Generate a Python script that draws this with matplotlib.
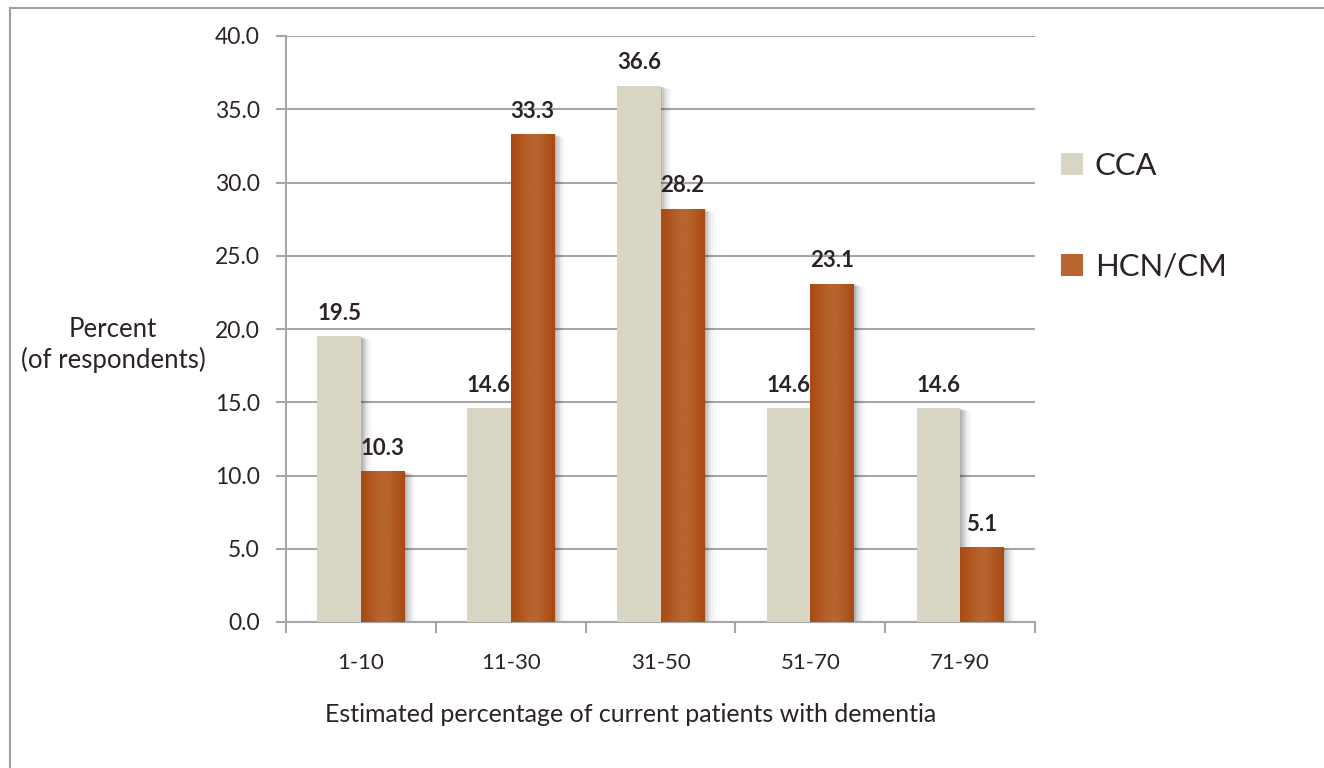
import numpy as np
import matplotlib
matplotlib.use("Agg")
import matplotlib.pyplot as plt
from matplotlib.colors import LinearSegmentedColormap
from matplotlib.lines import Line2D
from matplotlib.patches import Rectangle
import matplotlib.transforms as mtransforms

categories = ["1-10", "11-30", "31-50", "51-70", "71-90"]
series_names = ["CCA", "HCN/CM"]
cca_values = [19.5, 14.6, 36.6, 14.6, 14.6]
hcn_values = [10.3, 33.3, 28.2, 23.1, 5.1]
y_ticks = [0, 5, 10, 15, 20, 25, 30, 35, 40]

text_color = "#2d2327"
grid_color = "#a6a6a6"
cca_color = "#d9d6c6"
hcn_dark = "#a84a12"
hcn_light = "#b8642f"

plt.rcParams["font.family"] = ["Lato", "DejaVu Sans"]

fig = plt.figure(figsize=(13.24, 7.68), dpi=100)
W, H = 1324, 768
ax = fig.add_axes([286 / W, 1 - 622 / H, (1035 - 286) / W, (622 - 36) / H])

x = np.arange(len(categories))
width = 0.29

# horizontal gridlines
ax.set_yticks(y_ticks)
ax.set_yticklabels([f"{v:.1f}" for v in y_ticks], fontsize=16.5, color=text_color)
ax.yaxis.grid(True, color=grid_color, linewidth=1.5)
ax.set_axisbelow(True)
ax.tick_params(axis="y", length=7, width=1.5, color=grid_color, pad=12)

# category labels centered, tick marks at group boundaries
ax.set_xticks(x)
ax.set_xticklabels(categories, fontsize=16, color=text_color)
ax.tick_params(axis="x", length=0, pad=22)
ax.set_xticks(np.arange(-0.5, len(categories), 1.0), minor=True)
ax.tick_params(axis="x", which="minor", length=8, width=1.5, color=grid_color)

for side in ["top", "right"]:
    ax.spines[side].set_visible(False)
for side in ["left", "bottom"]:
    ax.spines[side].set_color(grid_color)
    ax.spines[side].set_linewidth(1.5)


def draw_shadow(x0, h):
    # soft drop shadow to the right of each bar
    for i, a in enumerate([0.10, 0.08, 0.06, 0.045, 0.03, 0.02]):
        off = mtransforms.offset_copy(ax.transData, fig=fig, x=(i + 1) * 1.3, y=-(i + 1) * 0.4, units="points")
        ax.add_patch(Rectangle((x0, 0), width, h, facecolor="black", alpha=a,
                               edgecolor="none", transform=off, zorder=2))


grad_cmap = LinearSegmentedColormap.from_list(
    "hcn", [(0.0, hcn_dark), (0.45, hcn_light), (0.6, hcn_light), (1.0, hcn_dark)])
gradient = np.linspace(0, 1, 256).reshape(1, -1)

for i in range(len(categories)):
    draw_shadow(x[i] - width, cca_values[i])
    draw_shadow(x[i], hcn_values[i])

for i in range(len(categories)):
    ax.bar(x[i] - width / 2, cca_values[i], width, color=cca_color, zorder=3)
    b2 = ax.bar(x[i] + width / 2, hcn_values[i], width, color=hcn_dark, zorder=3)
    im = ax.imshow(gradient, cmap=grad_cmap, aspect="auto",
                   extent=(x[i], x[i] + width, 0, hcn_values[i]), zorder=3.5)
    im.set_clip_path(b2[0])

ax.set_xlim(-0.5, len(categories) - 0.5)
ax.set_ylim(0, 40)

# value labels
for i in range(len(categories)):
    ax.annotate(f"{cca_values[i]:.1f}", (x[i] - width / 2, cca_values[i]),
                xytext=(0, 9), textcoords="offset points", ha="center", va="bottom",
                fontsize=16, fontweight="bold", color=text_color, zorder=5)
    ax.annotate(f"{hcn_values[i]:.1f}", (x[i] + width / 2, hcn_values[i]),
                xytext=(0, 9), textcoords="offset points", ha="center", va="bottom",
                fontsize=16, fontweight="bold", color=text_color, zorder=5)

# axis titles
fig.text(631 / W, 1 - 715 / H, "Estimated percentage of current patients with dementia",
         ha="center", va="center", fontsize=18, color=text_color)
fig.text(113 / W, 1 - 345 / H, "Percent\n(of respondents)", ha="center", va="center",
         fontsize=18.5, color=text_color, linespacing=1.2)

# legend
handles = [Rectangle((0, 0), 1, 1, facecolor=cca_color),
           Rectangle((0, 0), 1, 1, facecolor=hcn_light)]
leg = fig.legend(handles, series_names, loc="upper left",
                 bbox_to_anchor=(1033 / W, 1 - 124 / H), frameon=False,
                 fontsize=22.3, handlelength=0.7, handleheight=0.7,
                 handletextpad=0.4, labelspacing=2.35, labelcolor=text_color)

# outer frame
fig.add_artist(Line2D([10 / W, 1], [1 - 8 / H, 1 - 8 / H], color="#a0a0a0", linewidth=1.5,
                      transform=fig.transFigure))
fig.add_artist(Line2D([10 / W, 10 / W], [0, 1 - 8 / H], color="#a0a0a0", linewidth=1.5,
                      transform=fig.transFigure))

fig.savefig("out.png", dpi=100)
